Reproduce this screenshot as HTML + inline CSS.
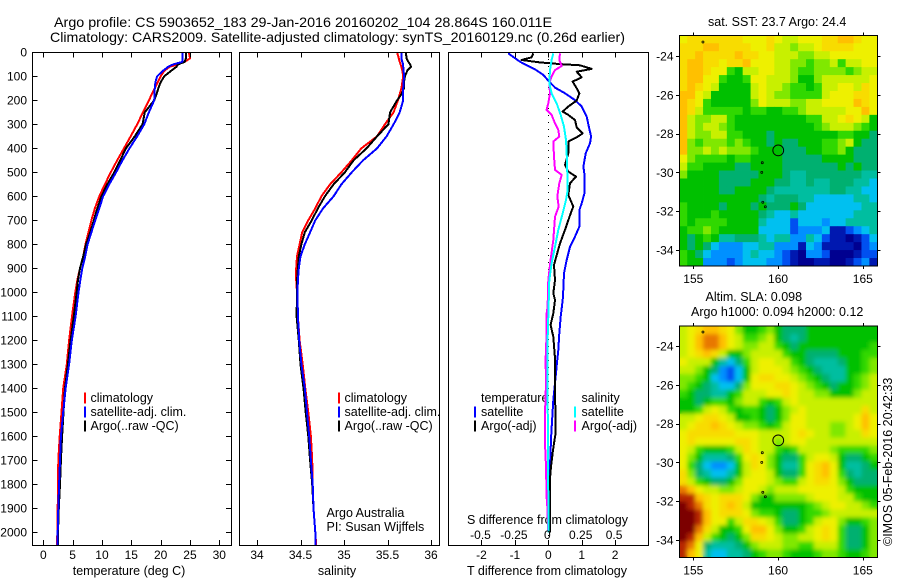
<!DOCTYPE html>
<html>
<head>
<meta charset="utf-8">
<title>Argo profile</title>
<style>
html,body{margin:0;padding:0;background:#fff;}
svg{display:block;}
text{font-family:"Liberation Sans",sans-serif;font-size:12.5px;fill:#000;}
</style>
</head>
<body>
<svg id="chart" xmlns="http://www.w3.org/2000/svg" width="900" height="580" viewBox="0 0 900 580">
<defs>
<clipPath id="clipT"><rect x="32.3" y="52.3" width="199" height="493"/></clipPath>
<clipPath id="clipS"><rect x="239.3" y="52.3" width="200" height="493"/></clipPath>
<clipPath id="clipD"><rect x="448.3" y="52.3" width="200.4" height="493"/></clipPath>
<clipPath id="clipM1"><rect x="679.3" y="35.3" width="198" height="230.7"/></clipPath>
<clipPath id="clipM2"><rect x="679.3" y="326" width="198" height="231.3"/></clipPath>
<filter id="smooth" x="-5%" y="-5%" width="110%" height="110%"><feGaussianBlur stdDeviation="2.2"/></filter>
</defs>
<text x="54" y="27" textLength="498" lengthAdjust="spacingAndGlyphs" style="font-size:14px">Argo profile: CS 5903652_183 29-Jan-2016 20160202_104 28.864S 160.011E</text>
<text x="50" y="42" textLength="575" lengthAdjust="spacingAndGlyphs" style="font-size:14px">Climatology: CARS2009. Satellite-adjusted climatology: synTS_20160129.nc (0.26d earlier)</text>
<text x="129" y="575" text-anchor="middle">temperature (deg C)</text>
<text x="337" y="575" text-anchor="middle">salinity</text>
<text x="547" y="575" text-anchor="middle">T difference from climatology</text>
<text x="547.5" y="524" text-anchor="middle">S difference from climatology</text>
<text x="326.5" y="517">Argo Australia</text>
<text x="326.5" y="531">PI: Susan Wijffels</text>
<text x="708" y="26">sat. SST: 23.7 Argo: 24.4</text>
<text x="705.5" y="301">Altim. SLA: 0.098</text>
<text x="691" y="316">Argo h1000: 0.094 h2000: 0.12</text>
<text transform="translate(892,546) rotate(-90)">©IMOS 05-Feb-2016 20:42:33</text>
<g id="legends"></g>
</svg>
<script>
// ---- chart data: profile panels ----
const depths = [0,25,40,50,60,75,100,125,150,175,200,250,300,350,400,450,500,550,600,650,700,750,800,850,900,950,1000,1100,1200,1300,1400,1500,1600,1700,1800,1900,2000,2055];
const tempClim = [24.8,25.0,24.1,23.0,21.6,20.7,20.0,19.5,19.0,18.5,18.0,17.0,16.0,14.9,13.75,12.6,11.5,10.5,9.55,8.8,8.2,7.7,7.2,6.8,6.25,5.8,5.45,4.9,4.4,4.0,3.4,3.1,2.8,2.55,2.5,2.45,2.4,2.3];
const tempSat = [23.7,23.7,23.7,22.2,21.3,20.5,19.4,19.1,19.0,18.95,18.9,18.0,17.2,16.0,14.7,13.5,12.4,11.25,10.2,9.55,8.85,8.2,7.55,7.15,6.65,6.3,6.0,5.5,4.85,4.4,3.8,3.4,3.0,2.85,2.7,2.55,2.45,2.4];
const tempArgo = [24.3,24.3,24.1,23.0,22.7,21.9,20.6,20.0,19.6,19.3,18.9,17.3,16.9,15.6,14.1,13.1,12.1,10.9,9.9,9.2,8.6,8.0,7.3,6.8,6.25,5.9,5.7,5.2,4.65,4.2,3.7,3.45,3.2,3.0,2.85,2.65,2.5,2.5];
const salClim = [35.61,35.63,35.64,35.65,35.66,35.67,35.68,35.67,35.66,35.64,35.62,35.57,35.47,35.38,35.2,35.09,34.97,34.84,34.74,34.67,34.59,34.52,34.49,34.46,34.45,34.45,34.46,34.47,34.49,34.525,34.555,34.59,34.62,34.635,34.64,34.65,34.67,34.68];
const salSat = [35.66,35.66,35.67,35.68,35.68,35.685,35.69,35.685,35.68,35.68,35.68,35.64,35.57,35.49,35.38,35.22,35.09,34.97,34.88,34.76,34.67,34.61,34.55,34.5,34.48,34.47,34.465,34.47,34.485,34.51,34.55,34.575,34.6,34.62,34.64,34.65,34.67,34.675];
const salArgo = [35.71,35.72,35.74,35.76,35.77,35.73,35.7,35.69,35.69,35.66,35.61,35.53,35.51,35.38,35.26,35.11,35.01,34.88,34.78,34.7,34.63,34.55,34.51,34.48,34.47,34.46,34.46,34.455,34.48,34.5,34.535,34.56,34.59,34.61,34.635,34.65,34.67,34.675];

// ---- chart data: difference panel ----
const tDiffSatDepth = [4,39,71,94,118,147,171,199,226,268,313,351,379,421,476,518,588,629,657,726,768,810,865,921,990,1032,1101,1171,1240,1310,1379,1449,1518,1588,1657,1727,1796,1866,1935,2000];
const tDiffSat = [-1.2,-0.85,-0.4,-0.15,0,0.2,0.5,0.8,1.0,1.15,1.22,1.28,1.25,1.12,1.05,1.09,1.08,1.0,0.93,0.93,0.8,0.65,0.55,0.47,0.45,0.43,0.37,0.33,0.3,0.25,0.2,0.15,0.12,0.09,0.07,0.05,0.04,0.04,0.04,0.04];
const tDiffArgoDepth = [4,21,32,42,49,54,69,81,104,122,150,171,201,226,247,261,282,313,338,354,372,421,469,497,518,546,594,643,671,740,796,886,949,1004,1032,1088,1136,1185,1275,1379,1588,1629,1671,1727,1776,1866,2000];
const tDiffArgo = [-0.45,-0.5,-0.8,-0.25,0.35,0.95,1.3,0.85,1.0,0.73,0.85,0.93,0.85,0.6,0.43,0.6,0.8,0.85,1.03,0.85,0.6,0.6,0.5,0.6,0.83,0.65,0.6,0.75,0.67,0.5,0.35,0.17,0.2,0.15,0.2,0.15,0.07,0.15,0.2,0.2,0.22,0.17,0.13,0.08,0.05,0.05,0.05];
const sDiffSatDepth = [4,32,74,129,171,212,261,310,365,421,504,574,615,671,740,810,879,949,1060,1101,1240,1351,1588,1866,2000];
const sDiffSat = [0.0375,0.025,0.0125,0.0075,0.025,0.0625,0.0925,0.1175,0.1325,0.1375,0.1425,0.145,0.1325,0.1075,0.075,0.05,0.025,0.0075,0.0025,0,-0.0075,-0.0075,-0.0025,0,0];
const sDiffArgoDepth = [4,32,57,74,101,129,171,212,240,261,296,324,351,372,435,490,511,546,601,643,685,782,865,949,1060,1088,1171,1282,1379,1504,1629,1727,1851,1893,2000];
const sDiffArgo = [0.0875,0.0825,0.1,0.05,0.025,0.0075,0.0125,0,-0.0125,0.025,0.05,0.075,0.0825,0.0375,0.0425,0.05,0.1,0.0825,0.0675,0.0775,0.05,0.0375,0.0175,0,-0.005,-0.0125,-0.0125,-0.02,-0.0175,-0.025,-0.025,-0.0175,-0.0125,-0.0075,0];

// ---- tick labels ----
const depthTicks = [0,100,200,300,400,500,600,700,800,900,1000,1100,1200,1300,1400,1500,1600,1700,1800,1900,2000];
const tempTicks = [0,5,10,15,20,25,30];
const salTicks = ["34","34.5","35","35.5","36"];
const tDiffTicks = [-2,-1,0,1,2];
const sDiffTicks = ["-0.5","-0.25","0","0.25","0.5"];
const lonTicks = [155,160,165];
const latTicks = [-24,-26,-28,-30,-32,-34];

// ---- map data: colour levels per cell (row north to south) ----
const sstLevels = [
[11,12,12,12,12,12,12,12,11,11,11,12,11,10,10,11,11,11,12,12,13,13,12,11,11],
[12,12,12,13,13,12,12,12,12,11,11,12,10,10,9,10,10,11,12,12,12,12,11,11,11],
[12,12,13,12,12,12,12,13,12,12,11,11,10,10,10,9,9,10,10,11,11,11,11,11,11],
[12,13,13,12,12,11,12,12,13,11,11,11,10,10,9,9,8,9,9,10,8,10,10,11,11],
[12,13,13,12,11,11,8,7,10,10,11,11,10,10,9,8,8,9,9,9,9,8,9,10,10],
[12,13,13,11,11,8,7,7,8,11,11,10,10,10,9,7,7,9,10,10,10,10,10,10,11],
[12,13,12,11,10,7,7,7,7,10,11,10,10,9,8,8,7,8,10,10,11,11,10,12,11],
[13,13,11,10,7,7,7,7,7,10,11,10,9,9,8,8,8,8,10,11,11,11,12,12,11],
[13,12,11,8,7,7,7,7,7,9,11,10,10,10,9,9,10,10,11,11,11,11,13,12,11],
[13,12,10,8,8,8,8,8,7,8,8,7,7,8,8,9,10,10,10,10,10,11,11,13,11],
[13,10,9,9,10,10,8,7,7,7,7,7,7,7,7,7,8,8,10,10,11,12,11,10,7],
[13,10,9,10,10,9,8,7,7,7,7,7,7,7,7,7,7,8,9,10,10,10,9,8,7],
[13,10,9,9,10,10,8,8,7,7,7,6,7,7,7,7,7,7,7,7,8,8,7,7,6],
[13,9,8,9,9,9,8,9,8,7,7,6,7,6,6,7,7,7,8,8,9,10,7,6,6],
[13,9,9,10,9,10,9,9,9,8,7,7,7,6,6,6,7,7,8,8,9,7,6,6,6],
[11,9,8,8,8,8,7,8,8,7,7,7,7,6,6,6,6,6,7,7,7,7,6,6,6],
[10,8,8,7,7,7,7,6,6,7,7,7,7,6,6,6,6,6,6,6,7,6,7,6,6],
[9,7,7,7,7,6,6,6,6,6,7,7,7,6,5,5,6,6,6,6,6,6,6,5,5],
[7,7,7,7,7,6,6,6,6,7,7,7,6,6,5,5,6,5,5,6,6,6,5,5,4],
[7,7,7,7,7,6,6,7,7,7,7,6,5,5,5,5,5,5,5,6,6,5,5,4,4],
[7,7,7,7,7,7,7,7,7,7,6,5,6,6,6,5,5,4,4,4,4,4,5,5,4],
[8,7,7,7,7,6,7,7,7,6,7,6,6,6,7,6,4,4,4,4,4,4,4,5,5],
[8,7,7,7,8,7,7,7,7,7,6,5,4,4,5,4,4,4,4,4,4,4,5,5,5],
[8,7,8,8,8,8,7,7,7,7,5,4,4,4,2,4,4,4,3,4,4,5,5,5,5],
[7,8,8,9,8,7,7,7,7,7,4,4,4,4,2,3,3,3,4,1,1,2,3,4,5],
[7,6,7,8,7,5,5,6,6,6,5,4,5,5,3,3,5,4,2,1,1,0,1,2,4],
[7,6,7,6,4,3,3,3,4,4,5,5,3,3,3,1,4,3,1,1,1,1,0,2,3],
[8,7,6,4,3,3,3,3,4,5,4,4,3,2,1,0,3,3,2,0,0,0,1,2,2],
[8,7,7,3,3,3,2,3,4,4,4,3,3,2,1,0,0,1,1,0,0,1,2,3,1]
];
const slaLevels = [
[10,11,12,13,13,12,11,9,7,7,8,9,7,6,6,6,7,7,7,7,7,7,7,7,7],
[10,11,13,14,14,13,11,10,8,8,9,10,7,6,5,6,7,7,7,7,7,7,7,7,7],
[10,11,13,14,14,13,11,10,9,9,10,10,8,7,6,7,7,7,7,7,7,7,7,7,8],
[10,11,12,13,12,10,7,7,9,10,10,10,10,8,7,7,6,6,6,6,7,7,7,8,8],
[11,10,10,10,7,5,4,6,8,10,11,11,10,10,8,7,6,5,5,5,6,7,7,8,9],
[10,10,9,7,6,3,2,4,7,10,11,11,11,10,9,8,7,6,5,5,5,7,7,8,9],
[9,9,8,7,4,3,2,4,7,11,12,12,11,11,10,9,8,7,6,5,5,7,8,9,10],
[9,8,7,6,5,4,4,6,9,11,11,11,12,12,11,10,9,8,7,6,7,7,8,9,10],
[8,7,6,6,5,5,7,8,10,10,10,11,11,12,11,10,10,9,9,7,7,7,9,10,10],
[7,7,6,7,8,8,7,9,10,10,8,7,8,10,11,10,10,10,10,10,10,10,10,10,10],
[7,7,8,10,11,10,8,7,8,8,7,6,7,9,10,11,10,10,10,10,10,10,10,12,10],
[10,10,11,12,12,11,10,7,7,8,7,6,7,9,11,11,10,10,10,10,10,10,11,13,11],
[10,11,12,12,13,12,11,10,9,9,8,7,8,10,11,11,10,10,10,9,9,10,11,13,11],
[11,12,12,12,12,12,12,11,11,11,10,10,10,10,11,12,11,10,10,9,9,10,10,12,11],
[11,12,11,11,11,11,11,12,12,11,10,10,9,10,11,11,10,10,10,10,10,10,10,10,10],
[11,10,8,7,7,7,8,10,12,11,10,10,8,7,8,10,10,10,10,9,8,8,8,8,9],
[11,9,7,5,5,5,6,8,11,12,11,9,7,6,6,8,10,11,11,10,7,6,6,7,8],
[11,8,6,4,3,3,4,7,10,12,11,9,7,5,5,8,11,12,13,11,7,5,5,6,7],
[12,9,6,5,4,4,5,7,10,11,11,10,7,6,6,8,11,12,13,11,8,6,5,6,6],
[12,10,8,7,6,6,7,9,11,11,11,10,9,8,8,10,11,12,12,11,9,7,6,6,6],
[14,13,11,10,10,9,9,10,11,11,10,9,10,10,10,11,11,11,11,11,10,8,7,7,7],
[15,15,13,12,11,12,12,12,11,9,7,7,9,9,9,9,10,11,11,11,10,10,8,7,7],
[16,15,14,12,11,12,13,12,10,7,7,7,7,7,7,7,8,9,10,11,11,10,10,9,8],
[16,16,15,13,11,12,12,12,11,9,8,8,7,6,6,7,8,8,9,10,10,10,10,10,10],
[16,16,15,13,11,11,8,10,12,12,11,10,8,6,6,7,8,10,11,11,9,7,7,8,9],
[16,16,14,12,10,7,7,8,11,13,13,11,9,7,7,8,10,11,12,11,8,6,6,7,9],
[16,15,13,10,8,7,6,7,9,12,12,11,10,9,9,10,10,11,12,11,8,6,6,7,9],
[15,14,11,6,5,5,5,6,7,9,10,10,10,9,9,8,8,10,10,10,8,6,6,7,9],
[15,13,11,5,4,4,5,5,6,7,8,9,9,8,7,7,7,8,9,9,8,7,7,8,9]
];
const islandLons = [155.57,159.07,159.04,159.1,159.25];
const islandLats = [-23.28,-29.5,-30.0,-31.54,-31.77];
const floatLon = 160.011;
const floatLat = -28.864;

const levelColors = ["#000090","#0018b0","#0050f0","#0090ff","#00c0f0","#00bea0","#00b070","#00c000","#30d800","#80e800","#c8f000","#eef000","#f8dc00","#ffc000","#e87800","#b82800","#7c0000"];

// ---- axis functions ----
const yDepth = d => 52.3 + 0.24 * d;
const xTemp = t => 43.3 + 5.867 * t;
const xSal = s => 257 + 87 * (s - 34);
const xTDiff = t => 548.3 + 33.4 * t;
const xSDiff = s => 548.3 + 133.6 * s;
const xLon = lon => 693.3 + 16.95 * (lon - 155);
const yLat1 = lat => 56 - 19.4 * (lat + 24);
const yLat2 = lat => 346 - 19.4 * (lat + 24);

const NS = "http://www.w3.org/2000/svg";
const svg = document.getElementById("chart");
function mk(tag, attrs, parent) {
  const el = document.createElementNS(NS, tag);
  for (const k in attrs) el.setAttribute(k, attrs[k]);
  (parent || svg).appendChild(el);
  return el;
}
function seg(x1, y1, x2, y2, name, parent) {
  const el = mk("line", {x1: x1, y1: y1, x2: x2, y2: y2, stroke: "#000", "stroke-width": 1, "shape-rendering": "crispEdges"}, parent);
  
  
  return el;
}
function label(x, y, str, anchor, name, parent) {
  const el = mk("text", {x: x, y: y, "text-anchor": anchor}, parent);
  el.textContent = str;
  if (anchor !== "start") el.style.fontSize = "12px";
  
  
  return el;
}
function frame(x, y, w, h, name) {
  const el = mk("rect", {x: x, y: y, width: w, height: h, fill: "none", stroke: "#000", "stroke-width": 1, "shape-rendering": "crispEdges"});
  
  
  return el;
}
function profile(xs, ds, xf, color, clip, name, width) {
  const pts = xs.map((v, i) => xf(v).toFixed(1) + "," + yDepth(ds[i]).toFixed(1)).join(" ");
  const el = mk("polyline", {points: pts, fill: "none", stroke: color, "stroke-width": width || 2, "clip-path": "url(#" + clip + ")", "stroke-linejoin": "round", "shape-rendering": "crispEdges"});
  
  
  return el;
}

// ---- maps ----
function drawMap(levels, top, height, clip, blur, name) {
  const g = mk("g", {"clip-path": "url(#" + clip + ")"});
  
  
  const passes = blur ? [null, "url(#smooth)"] : [null];
  passes.forEach(f => {
    const sub = mk("g", f ? {filter: f} : {}, g);
    
    
    const rows = levels.length, cols = levels[0].length;
    const w = 198 / cols, h = height / rows;
    levels.forEach((row, r) => row.forEach((v, c) => {
      const cell = mk("rect", {x: (679.3 + c * w).toFixed(2), y: (top + r * h).toFixed(2), width: (w + 0.4).toFixed(2), height: (h + 0.4).toFixed(2), fill: levelColors[Math.max(0, Math.min(levelColors.length - 1, Math.round(v)))]}, sub);
      
      
    }));
  });
}
drawMap(sstLevels, 35.3, 230.7, "clipM1", false, "sst-map");
drawMap(slaLevels, 326, 231.3, "clipM2", true, "sla-map");

[[yLat1, 35.3, 266, "sst"], [yLat2, 326, 557.3, "sla"]].forEach(m => {
  const yf = m[0], top = m[1], bot = m[2], nm = m[3];
  islandLons.forEach((lon, i) => {
    const isl = mk("circle", {cx: xLon(lon), cy: yf(islandLats[i]), r: 1, fill: "none", stroke: "#000", "stroke-width": 0.8});
    
    
  });
  const c = mk("circle", {cx: xLon(floatLon), cy: yf(floatLat), r: 5.4, fill: "none", stroke: "#000", "stroke-width": 1});
  
  
  frame(679.3, top, 198, bot - top, nm + "-map-frame");
  lonTicks.forEach(lon => {
    const x = Math.round(xLon(lon)) + 0.5;
    seg(x, top - 3, x, top, nm + "-lon-tick-top");
    seg(x, bot, x, bot + 3, nm + "-lon-tick-bottom");
    label(xLon(lon), bot + 17, String(lon), "middle", nm + "-lon-label");
  });
  latTicks.forEach(lat => {
    const y = Math.round(yf(lat)) + 0.5;
    seg(676, y, 679.3, y, nm + "-lat-tick-left");
    seg(877.3, y, 880.5, y, nm + "-lat-tick-right");
    label(673.5, yf(lat) + 4.5, String(lat), "end", nm + "-lat-label");
  });
});

// ---- temperature panel ----
profile(tempClim, depths, xTemp, "#ff0000", "clipT", "temperature-climatology-line");
profile(tempArgo, depths, xTemp, "#000000", "clipT", "temperature-argo-line");
profile(tempSat, depths, xTemp, "#0000ff", "clipT", "temperature-satellite-line");
frame(32.3, 52.3, 199, 493, "temperature-panel-frame");
depthTicks.forEach(d => {
  const y = Math.round(yDepth(d)) + 0.5;
  seg(32.3, y, 37.5, y, "depth-tick-left");
  seg(226, y, 231.3, y, "depth-tick-right");
  label(27, yDepth(d) + 4, String(d), "end", "depth-label");
});
tempTicks.forEach(t => {
  const x = Math.round(xTemp(t)) + 0.5;
  seg(x, 52.3, x, 57.5, "temperature-tick-top");
  seg(x, 540, x, 545.3, "temperature-tick-bottom");
  label(xTemp(t), 559, String(t), "middle", "temperature-label");
});

// ---- salinity panel ----
profile(salClim, depths, xSal, "#ff0000", "clipS", "salinity-climatology-line");
profile(salArgo, depths, xSal, "#000000", "clipS", "salinity-argo-line");
profile(salSat, depths, xSal, "#0000ff", "clipS", "salinity-satellite-line");
frame(239.3, 52.3, 200, 493, "salinity-panel-frame");
salTicks.forEach(s => {
  const x = Math.round(xSal(Number(s))) + 0.5;
  seg(x, 52.3, x, 57.5, "salinity-tick-top");
  seg(x, 540, x, 545.3, "salinity-tick-bottom");
  label(xSal(Number(s)), 559, s, "middle", "salinity-label");
});

// ---- difference panel ----
const zeroLine = mk("line", {x1: 548.5, y1: 52, x2: 548.5, y2: 545, stroke: "#000", "stroke-width": 1, "stroke-dasharray": "1 6", "shape-rendering": "crispEdges"});


profile(tDiffSat, tDiffSatDepth, xTDiff, "#0000ff", "clipD", "t-difference-satellite-line");
profile(tDiffArgo, tDiffArgoDepth, xTDiff, "#000000", "clipD", "t-difference-argo-line");
profile(sDiffArgo, sDiffArgoDepth, xSDiff, "#ff00ff", "clipD", "s-difference-argo-line");
profile(sDiffSat, sDiffSatDepth, xSDiff, "#00ffff", "clipD", "s-difference-satellite-line");
frame(448.3, 52.3, 200.4, 493, "difference-panel-frame");
tDiffTicks.forEach(t => {
  const x = Math.round(xTDiff(t)) + 0.5;
  seg(x, 52.3, x, 57.5, "t-difference-tick-top");
  seg(x, 540, x, 545.3, "t-difference-tick-bottom");
  label(xTDiff(t), 559, String(t), "middle", "t-difference-label");
});
sDiffTicks.forEach(s => {
  label(xSDiff(Number(s)) - 1, 539, s, "middle", "s-difference-label");
});

// ---- legends ----
const legendGroup = document.getElementById("legends");
const legendRows = [
  [84, 90.5, 398, "#ff0000", "climatology"],
  [84, 90.5, 412, "#0000ff", "satellite-adj. clim."],
  [84, 90.5, 426, "#000000", "Argo(..raw -QC)"],
  [338, 344.5, 398, "#ff0000", "climatology"],
  [338, 344.5, 412, "#0000ff", "satellite-adj. clim."],
  [338, 344.5, 426, "#000000", "Argo(..raw -QC)"],
  [474, 481, 412, "#0000ff", "satellite"],
  [474, 481, 426, "#000000", "Argo(-adj)"],
  [574, 581.5, 412, "#00ffff", "satellite"],
  [574, 581.5, 426, "#ff00ff", "Argo(-adj)"]
];
legendRows.forEach(r => {
  const sw = mk("rect", {x: r[0], y: r[2] - 5.5, width: 2, height: 11, fill: r[3]}, legendGroup);
  
  
  label(r[1], r[2] + 4, r[4], "start", "legend-entry", legendGroup);
});
label(481, 402, "temperature", "start", "legend-heading-temperature", legendGroup);
label(581.5, 402, "salinity", "start", "legend-heading-salinity", legendGroup);
</script>
</body>
</html>
